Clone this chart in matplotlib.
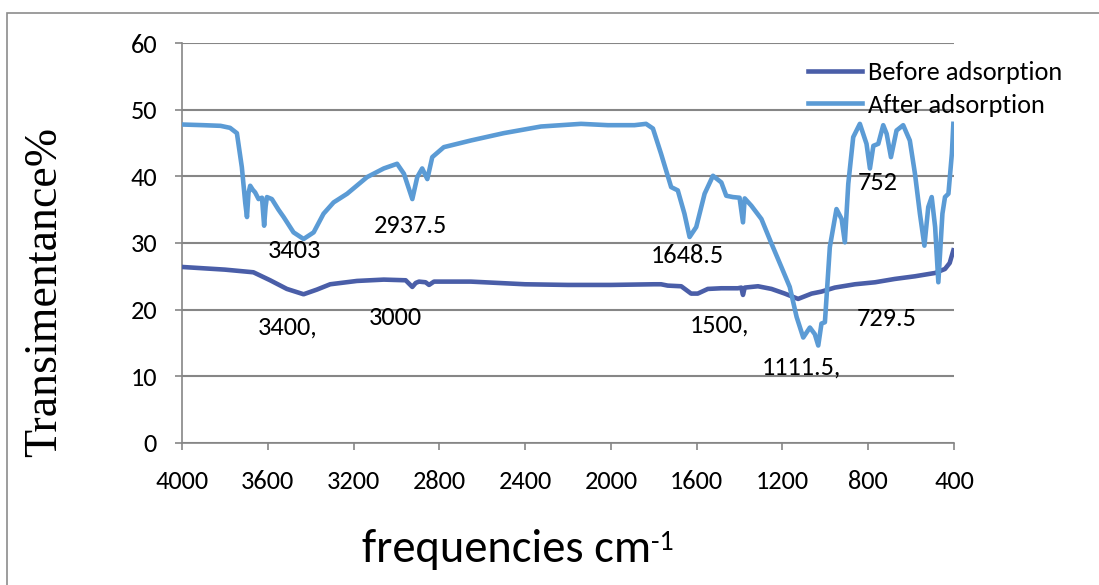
import matplotlib.pyplot as plt
from matplotlib.patches import Rectangle

# FTIR spectra, read as (wavenumber, transmittance)
before_freq = [4000, 3800, 3667, 3589, 3511, 3433, 3371, 3309, 3184, 3059, 2957, 2926, 2910,
               2895, 2864, 2848, 2825, 2653, 2400, 2200, 2000, 1800, 1766, 1735, 1672, 1626,
               1595, 1548, 1485, 1408, 1392, 1384, 1376, 1314, 1251, 1189, 1127, 1064, 1018,
               956, 862, 768, 676, 582, 488, 442, 420, 403]
before_T = [26.4, 26.0, 25.6, 24.4, 23.1, 22.3, 23.0, 23.8, 24.3, 24.5, 24.4, 23.4, 24.0,
            24.2, 24.1, 23.7, 24.2, 24.2, 23.8, 23.7, 23.7, 23.8, 23.8, 23.6, 23.5, 22.4,
            22.4, 23.1, 23.2, 23.2, 23.3, 22.2, 23.3, 23.5, 23.1, 22.4, 21.6, 22.4, 22.7,
            23.3, 23.8, 24.1, 24.6, 25.0, 25.5, 26.1, 27.0, 28.9]

after_freq = [4000, 3900, 3820, 3776, 3744, 3721, 3705, 3697, 3690, 3682, 3670, 3659, 3643,
              3627, 3617, 3610, 3604, 3581, 3550, 3526, 3480, 3433, 3386, 3340, 3293, 3230,
              3137, 3059, 2997, 2965, 2926, 2903, 2880, 2856, 2833, 2779, 2653, 2500, 2326,
              2139, 2014, 1890, 1836, 1804, 1766, 1719, 1688, 1657, 1633, 1602, 1563, 1524,
              1485, 1462, 1431, 1400, 1384, 1376, 1345, 1298, 1251, 1205, 1166, 1134, 1103,
              1072, 1049, 1033, 1018, 1002, 979, 948, 924, 909, 893, 870, 839, 808, 792, 776,
              753, 730, 714, 694, 668, 637, 606, 582, 559, 538, 520, 504, 488, 473, 454, 442,
              426, 410, 403]
after_T = [47.8, 47.7, 47.6, 47.3, 46.5, 41.4, 36.0, 33.9, 37.5, 38.6, 38.0, 37.6, 36.6,
           36.8, 32.6, 35.5, 36.9, 36.6, 35.0, 33.9, 31.6, 30.6, 31.6, 34.4, 36.1, 37.4,
           39.9, 41.2, 41.9, 40.4, 36.6, 39.9, 41.2, 39.6, 42.9, 44.4, 45.4, 46.5, 47.5,
           47.9, 47.7, 47.7, 47.9, 47.2, 43.4, 38.4, 37.9, 34.4, 30.9, 32.4, 37.4, 40.1,
           39.1, 37.1, 36.9, 36.8, 33.1, 36.7, 35.6, 33.6, 29.9, 26.4, 23.4, 18.9, 15.8,
           17.3, 16.3, 14.6, 17.9, 18.1, 29.4, 35.1, 33.6, 30.1, 38.9, 45.9, 47.9, 44.9, 41.2, 44.6,
           44.9, 47.7, 46.4, 42.9, 46.9, 47.7, 45.4, 40.4, 34.4, 29.6, 35.4, 36.9, 32.4, 24.1, 34.4, 36.9,
           37.4, 43.4, 47.9]

# peak labels: text, x, y
peak_labels = [("3403", 3476, 28.9), ("2937.5", 2934, 32.6), ("3400,", 3509, 17.3),
               ("3000", 3004, 18.8), ("1648.5", 1644, 28.1), ("1500,", 1494, 17.6),
               ("1111.5,", 1111, 11.3), ("729.5", 713, 18.6), ("752", 755, 39.1)]

x_ticks = [4000, 3600, 3200, 2800, 2400, 2000, 1600, 1200, 800, 400]
y_ticks = [0, 10, 20, 30, 40, 50, 60]

plt.rcParams['font.family'] = ['Carlito', 'Lato', 'DejaVu Sans']
fs = 19

fig = plt.figure(figsize=(10.99, 5.85), dpi=100)
ax = fig.add_axes([182 / 1099, 1 - 442.7 / 585, 772 / 1099, 399.4 / 585])

# chart border
fig.patches.append(Rectangle((7 / 1099, -0.1), 1.2, 1 - 13 / 585 + 0.1, transform=fig.transFigure,
                             fill=False, edgecolor='#8c8c8c', linewidth=1.2))

ax.plot(before_freq, before_T, color='#4a5ea8', lw=3.3, label='Before adsorption', zorder=3)
ax.plot(after_freq, after_T, color='#5b9bd5', lw=3.3, label='After adsorption', zorder=3)

for txt, fx, fy in peak_labels:
    ax.text(fx, fy, txt, ha='center', va='center', fontsize=fs)

ax.set_xlim(4000, 400)
ax.set_ylim(0, 60)
ax.set_xticks(x_ticks)
ax.set_yticks(y_ticks)
ax.tick_params(labelsize=fs, length=5, color='#868686', width=1.2)
ax.tick_params(axis='x', pad=15)
ax.tick_params(axis='y', pad=13)
ax.yaxis.grid(True, color='#868686', lw=1.5)
ax.set_axisbelow(True)
for s in ['top', 'right']:
    ax.spines[s].set_visible(False)
for s in ['left', 'bottom']:
    ax.spines[s].set_color('#868686')
    ax.spines[s].set_linewidth(1.2)

fig.text(45 / 1099, 1 - 292 / 585, 'Transimentance%', family='Liberation Serif', fontsize=33,
         rotation=90, ha='center', va='center')
xl = fig.text(362 / 1099, 1 - 550 / 585, 'frequencies cm', fontsize=33.5, ha='left', va='center')
ax.annotate('-1', xy=(1.0, 0.98), xycoords=xl, fontsize=20, ha='left', va='top')

ax.legend(loc='upper left', bbox_to_anchor=(0.811, 0.955), frameon=False, fontsize=fs,
          handlelength=2.05, handletextpad=0.23, labelspacing=0.35, borderaxespad=0, borderpad=0)

fig.savefig('out.png', dpi=100)
